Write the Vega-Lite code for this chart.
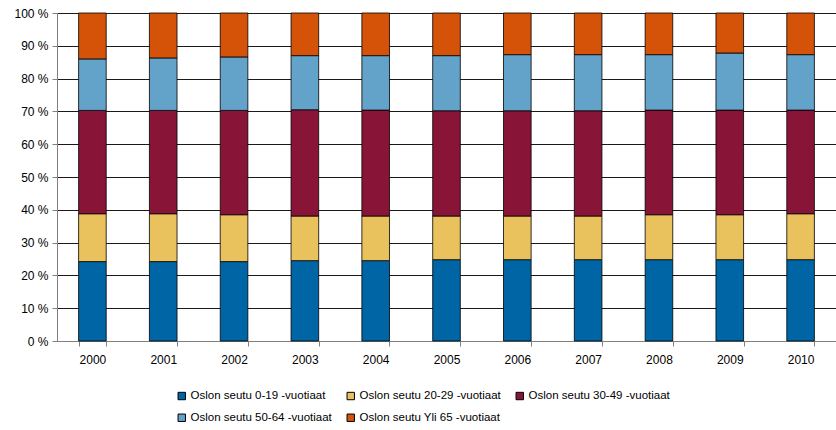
{
  "$schema": "https://vega.github.io/schema/vega-lite/v6.json",
  "autosize": {"type": "none"},
  "width": 779,
  "height": 328,
  "padding": {"left": 57, "top": 13, "right": 0, "bottom": 89},
  "background": "white",
  "config": {
    "font": "Liberation Sans",
    "view": {"stroke": null},
    "axis": {"labelFont": "Liberation Sans", "labelFontSize": 12, "labelColor": "#000"}
  },
  "datasets": {
    "pop": [
      {"vuosi": "2000", "ryhma": "Oslon seutu 0-19 -vuotiaat", "j": 1, "osuus": 24.2},
      {"vuosi": "2000", "ryhma": "Oslon seutu 20-29 -vuotiaat", "j": 2, "osuus": 14.6},
      {"vuosi": "2000", "ryhma": "Oslon seutu 30-49 -vuotiaat", "j": 3, "osuus": 31.5},
      {"vuosi": "2000", "ryhma": "Oslon seutu 50-64 -vuotiaat", "j": 4, "osuus": 15.7},
      {"vuosi": "2000", "ryhma": "Oslon seutu Yli 65 -vuotiaat", "j": 5, "osuus": 14.0},
      {"vuosi": "2001", "ryhma": "Oslon seutu 0-19 -vuotiaat", "j": 1, "osuus": 24.2},
      {"vuosi": "2001", "ryhma": "Oslon seutu 20-29 -vuotiaat", "j": 2, "osuus": 14.6},
      {"vuosi": "2001", "ryhma": "Oslon seutu 30-49 -vuotiaat", "j": 3, "osuus": 31.5},
      {"vuosi": "2001", "ryhma": "Oslon seutu 50-64 -vuotiaat", "j": 4, "osuus": 16.0},
      {"vuosi": "2001", "ryhma": "Oslon seutu Yli 65 -vuotiaat", "j": 5, "osuus": 13.7},
      {"vuosi": "2002", "ryhma": "Oslon seutu 0-19 -vuotiaat", "j": 1, "osuus": 24.2},
      {"vuosi": "2002", "ryhma": "Oslon seutu 20-29 -vuotiaat", "j": 2, "osuus": 14.3},
      {"vuosi": "2002", "ryhma": "Oslon seutu 30-49 -vuotiaat", "j": 3, "osuus": 31.8},
      {"vuosi": "2002", "ryhma": "Oslon seutu 50-64 -vuotiaat", "j": 4, "osuus": 16.3},
      {"vuosi": "2002", "ryhma": "Oslon seutu Yli 65 -vuotiaat", "j": 5, "osuus": 13.4},
      {"vuosi": "2003", "ryhma": "Oslon seutu 0-19 -vuotiaat", "j": 1, "osuus": 24.5},
      {"vuosi": "2003", "ryhma": "Oslon seutu 20-29 -vuotiaat", "j": 2, "osuus": 13.6},
      {"vuosi": "2003", "ryhma": "Oslon seutu 30-49 -vuotiaat", "j": 3, "osuus": 32.4},
      {"vuosi": "2003", "ryhma": "Oslon seutu 50-64 -vuotiaat", "j": 4, "osuus": 16.5},
      {"vuosi": "2003", "ryhma": "Oslon seutu Yli 65 -vuotiaat", "j": 5, "osuus": 13.0},
      {"vuosi": "2004", "ryhma": "Oslon seutu 0-19 -vuotiaat", "j": 1, "osuus": 24.5},
      {"vuosi": "2004", "ryhma": "Oslon seutu 20-29 -vuotiaat", "j": 2, "osuus": 13.6},
      {"vuosi": "2004", "ryhma": "Oslon seutu 30-49 -vuotiaat", "j": 3, "osuus": 32.3},
      {"vuosi": "2004", "ryhma": "Oslon seutu 50-64 -vuotiaat", "j": 4, "osuus": 16.6},
      {"vuosi": "2004", "ryhma": "Oslon seutu Yli 65 -vuotiaat", "j": 5, "osuus": 13.0},
      {"vuosi": "2005", "ryhma": "Oslon seutu 0-19 -vuotiaat", "j": 1, "osuus": 24.8},
      {"vuosi": "2005", "ryhma": "Oslon seutu 20-29 -vuotiaat", "j": 2, "osuus": 13.3},
      {"vuosi": "2005", "ryhma": "Oslon seutu 30-49 -vuotiaat", "j": 3, "osuus": 32.1},
      {"vuosi": "2005", "ryhma": "Oslon seutu 50-64 -vuotiaat", "j": 4, "osuus": 16.8},
      {"vuosi": "2005", "ryhma": "Oslon seutu Yli 65 -vuotiaat", "j": 5, "osuus": 13.0},
      {"vuosi": "2006", "ryhma": "Oslon seutu 0-19 -vuotiaat", "j": 1, "osuus": 24.8},
      {"vuosi": "2006", "ryhma": "Oslon seutu 20-29 -vuotiaat", "j": 2, "osuus": 13.3},
      {"vuosi": "2006", "ryhma": "Oslon seutu 30-49 -vuotiaat", "j": 3, "osuus": 32.1},
      {"vuosi": "2006", "ryhma": "Oslon seutu 50-64 -vuotiaat", "j": 4, "osuus": 17.1},
      {"vuosi": "2006", "ryhma": "Oslon seutu Yli 65 -vuotiaat", "j": 5, "osuus": 12.7},
      {"vuosi": "2007", "ryhma": "Oslon seutu 0-19 -vuotiaat", "j": 1, "osuus": 24.8},
      {"vuosi": "2007", "ryhma": "Oslon seutu 20-29 -vuotiaat", "j": 2, "osuus": 13.3},
      {"vuosi": "2007", "ryhma": "Oslon seutu 30-49 -vuotiaat", "j": 3, "osuus": 32.1},
      {"vuosi": "2007", "ryhma": "Oslon seutu 50-64 -vuotiaat", "j": 4, "osuus": 17.1},
      {"vuosi": "2007", "ryhma": "Oslon seutu Yli 65 -vuotiaat", "j": 5, "osuus": 12.7},
      {"vuosi": "2008", "ryhma": "Oslon seutu 0-19 -vuotiaat", "j": 1, "osuus": 24.8},
      {"vuosi": "2008", "ryhma": "Oslon seutu 20-29 -vuotiaat", "j": 2, "osuus": 13.7},
      {"vuosi": "2008", "ryhma": "Oslon seutu 30-49 -vuotiaat", "j": 3, "osuus": 31.9},
      {"vuosi": "2008", "ryhma": "Oslon seutu 50-64 -vuotiaat", "j": 4, "osuus": 16.9},
      {"vuosi": "2008", "ryhma": "Oslon seutu Yli 65 -vuotiaat", "j": 5, "osuus": 12.7},
      {"vuosi": "2009", "ryhma": "Oslon seutu 0-19 -vuotiaat", "j": 1, "osuus": 24.8},
      {"vuosi": "2009", "ryhma": "Oslon seutu 20-29 -vuotiaat", "j": 2, "osuus": 13.7},
      {"vuosi": "2009", "ryhma": "Oslon seutu 30-49 -vuotiaat", "j": 3, "osuus": 31.9},
      {"vuosi": "2009", "ryhma": "Oslon seutu 50-64 -vuotiaat", "j": 4, "osuus": 17.4},
      {"vuosi": "2009", "ryhma": "Oslon seutu Yli 65 -vuotiaat", "j": 5, "osuus": 12.2},
      {"vuosi": "2010", "ryhma": "Oslon seutu 0-19 -vuotiaat", "j": 1, "osuus": 24.8},
      {"vuosi": "2010", "ryhma": "Oslon seutu 20-29 -vuotiaat", "j": 2, "osuus": 14.0},
      {"vuosi": "2010", "ryhma": "Oslon seutu 30-49 -vuotiaat", "j": 3, "osuus": 31.6},
      {"vuosi": "2010", "ryhma": "Oslon seutu 50-64 -vuotiaat", "j": 4, "osuus": 16.9},
      {"vuosi": "2010", "ryhma": "Oslon seutu Yli 65 -vuotiaat", "j": 5, "osuus": 12.7}
    ]
  },
  "data": {"name": "pop"},
  "mark": {"type": "bar", "stroke": "#000", "strokeWidth": 0.8},
  "encoding": {
    "x": {
      "field": "vuosi",
      "type": "ordinal",
      "title": null,
      "scale": {"paddingInner": 0.61, "paddingOuter": 0.305},
      "axis": {
        "labelAngle": 0,
        "labelPadding": 8,
        "domainColor": "#808080",
        "domainWidth": 1,
        "tickColor": "#808080",
        "tickSize": 5,
        "tickBand": "extent",
        "grid": false
      }
    },
    "y": {
      "field": "osuus",
      "type": "quantitative",
      "stack": "normalize",
      "title": null,
      "scale": {"domain": [0, 1], "nice": false},
      "axis": {
        "values": [0, 0.1, 0.2, 0.3, 0.4, 0.5, 0.6, 0.7, 0.8, 0.9, 1],
        "labelExpr": "round(datum.value * 100) + ' %'",
        "labelPadding": 4,
        "domainColor": "#808080",
        "domainWidth": 1,
        "tickColor": "#808080",
        "tickSize": 5,
        "grid": true,
        "gridColor": "#1a1a1a",
        "gridWidth": 1
      }
    },
    "color": {
      "field": "ryhma",
      "type": "nominal",
      "sort": [
        "Oslon seutu 0-19 -vuotiaat",
        "Oslon seutu 20-29 -vuotiaat",
        "Oslon seutu 30-49 -vuotiaat",
        "Oslon seutu 50-64 -vuotiaat",
        "Oslon seutu Yli 65 -vuotiaat"
      ],
      "scale": {"range": ["#0065A5", "#EAC25D", "#881537", "#63A3CA", "#D55209"]},
      "legend": {
        "title": null,
        "orient": "none",
        "legendX": 119,
        "legendY": 377,
        "direction": "horizontal",
        "columns": 3,
        "symbolType": "square",
        "symbolSize": 55,
        "symbolStrokeColor": "#000",
        "symbolStrokeWidth": 1,
        "symbolOpacity": 1,
        "labelFont": "Liberation Sans",
        "labelFontSize": 11.5,
        "labelColor": "#000",
        "labelOffset": 3,
        "columnPadding": 13,
        "rowPadding": 9,
        "labelLimit": 300
      }
    },
    "order": {"field": "j", "type": "quantitative", "sort": "ascending"}
  }
}
